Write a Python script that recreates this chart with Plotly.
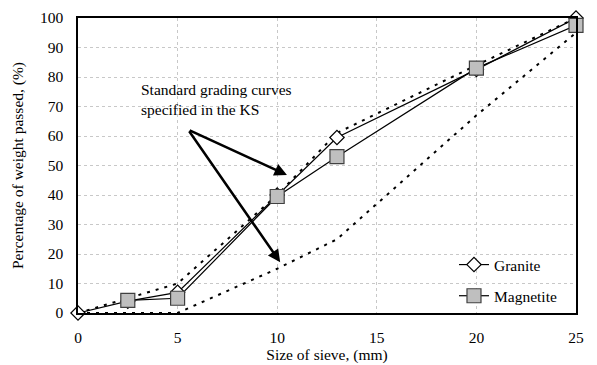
import plotly.graph_objects as go

sieve = [0, 2.5, 5, 10, 13, 20, 25]
granite = [0, 4, 7, 40, 59.5, 82.5, 100]
mag_sieve = [2.5, 5, 10, 13, 20, 25]
magnetite = [4.3, 5, 39.5, 53, 83, 97.5]
std_sieve = [0, 5, 10, 13, 20, 25]
std_upper = [0, 10, 40, 61, 84, 100]
std_lower = [0, 0, 15, 25, 67, 95]

FONT = "Times New Roman, Liberation Serif, serif"
FS = 15.5
fig = go.Figure()
dash = "3px,6px"
fig.add_trace(go.Scatter(x=std_sieve, y=std_upper, mode="lines", showlegend=False,
                         line=dict(color="black", width=2, dash=dash)))
fig.add_trace(go.Scatter(x=std_sieve, y=std_lower, mode="lines", showlegend=False,
                         line=dict(color="black", width=2, dash=dash)))
fig.add_trace(go.Scatter(x=sieve, y=granite, mode="lines+markers", name="Granite",
                         legendgroup="g", cliponaxis=False,
                         line=dict(color="black", width=1.2),
                         marker=dict(symbol="diamond", size=11, color="white",
                                     line=dict(color="black", width=1.2))))
fig.add_trace(go.Scatter(x=mag_sieve, y=magnetite, mode="lines+markers", name="Magnetite",
                         legendgroup="m", cliponaxis=False,
                         line=dict(color="black", width=1.2),
                         marker=dict(symbol="square", size=14, color="#BFBFBF",
                                     line=dict(color="#404040", width=1.2))))

# arrows
for tx, ty in [(10.49, 46.8), (10.15, 17.2)]:
    fig.add_annotation(x=tx, y=ty, ax=5.53, ay=62.1, xref="x", yref="y",
                       axref="x", ayref="y", showarrow=True, arrowhead=2,
                       arrowsize=1, arrowwidth=2.5, arrowcolor="black", text="")
fig.add_annotation(x=3.07, y=72.5, xref="x", yref="y", xanchor="left", yanchor="middle",
                   text="Standard grading curves<br>specified in the KS", showarrow=False,
                   align="left", font=dict(family=FONT, size=FS, color="black"))

axis_common = dict(showline=True, linecolor="black", linewidth=1.5, mirror=True,
                   showgrid=True, gridcolor="#C8C8C8", griddash="dot", gridwidth=1,
                   zeroline=False, ticks="", automargin=False,
                   tickfont=dict(family=FONT, size=FS, color="black"))
fig.update_xaxes(range=[0, 25], dtick=5, ticklabelstandoff=10,
                 title=dict(text="Size of sieve, (mm)", standoff=4,
                            font=dict(family=FONT, size=FS, color="black")), **axis_common)
fig.update_yaxes(range=[0, 100], dtick=10, ticklabelstandoff=10,
                 title=dict(text="Percentage of weight passed, (%)", standoff=12,
                            font=dict(family=FONT, size=FS, color="black")), **axis_common)

fig.update_layout(width=597, height=365, margin=dict(l=78, r=21, t=18, b=52),
                  plot_bgcolor="white", paper_bgcolor="white",
                  font=dict(family=FONT, size=FS, color="black"),
                  legend=dict(x=0.755, y=0.0, xanchor="left", yanchor="bottom",
                              bgcolor="rgba(0,0,0,0)", tracegroupgap=8,
                              font=dict(family=FONT, size=FS, color="black")))
fig.write_html("out.html")
